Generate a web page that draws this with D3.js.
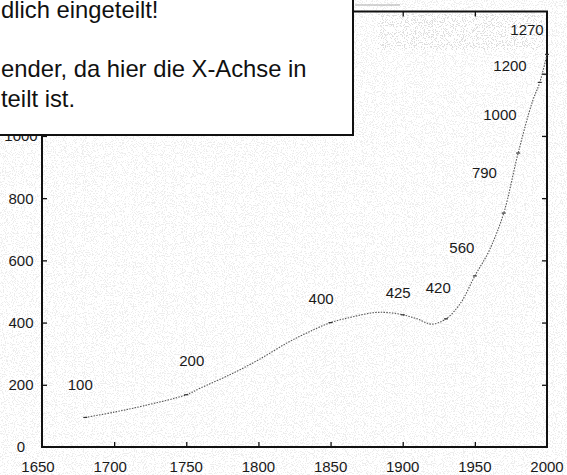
<!DOCTYPE html>
<html>
<head>
<meta charset="utf-8">
<script src="https://cdn.jsdelivr.net/npm/d3@7"></script>
<style>
  body { margin: 0; background: #fff; }
  svg { display: block; font-family: "Liberation Sans", Arial, sans-serif; }
</style>
</head>
<body>
<div class="chart"></div>
<script>
// traced curve (year, value)
const years  = [1680, 1700, 1720, 1750, 1760, 1780, 1800, 1820, 1835, 1850, 1865, 1880, 1890, 1900, 1910, 1920, 1930, 1940, 1950, 1960, 1970, 1980, 1990, 1995, 2000];
const values = [  95,  112,  132,  168,  190,  232,  280,  335,  370,  400,  418,  432,  432,  425,  412,  395,  412,  462,  550,  632,  752,  945, 1112, 1172, 1262];

// annotated points
const labelYears  = [1680, 1750, 1850, 1900, 1930, 1950, 1970, 1980, 1995, 2000];
const labelValues = [ 100,  200,  400,  425,  420,  560,  790, 1000, 1200, 1270];

const xTicks = [1650, 1700, 1750, 1800, 1850, 1900, 1950, 2000];
const yTicks = [0, 200, 400, 600, 800, 1000, 1200, 1400];
const yLabels = [0, 200, 400, 600, 800, 1000];   // 1200 sits under the note box

const noteLines = ["dlich eingeteilt!", "", "ender, da hier die X-Achse in", "teilt ist."];

const width = 567, height = 475;
const plotL = 42, plotR = 547, plotT = 11.5, plotB = 447;

const svg = d3.select(".chart").append("svg")
  .attr("width", width)
  .attr("height", height);

// scanned paper speckle
const defs = svg.append("defs");
const f = defs.append("filter").attr("id", "grain")
  .attr("x", 0).attr("y", 0).attr("width", 1).attr("height", 1);
f.append("feTurbulence")
  .attr("type", "fractalNoise")
  .attr("baseFrequency", 0.9)
  .attr("numOctaves", 2)
  .attr("seed", 3)
  .attr("result", "noise");
f.append("feColorMatrix")
  .attr("in", "noise")
  .attr("type", "matrix")
  .attr("values", "0 0 0 0 0.5  0 0 0 0 0.5  0 0 0 0 0.5  0 0 0 -20 8.8");

svg.append("rect")
  .attr("width", width).attr("height", height)
  .attr("fill", "#fff");
svg.append("rect")
  .attr("width", width).attr("height", height)
  .attr("filter", "url(#grain)")
  .attr("opacity", 0.25);
// darker patch of the scan near the top right
svg.append("rect")
  .attr("x", 378).attr("y", 14).attr("width", 165).attr("height", 36)
  .attr("filter", "url(#grain)")
  .attr("opacity", 0.3);

const x = d3.scaleLinear().domain([1650, 2000]).range([plotL, plotR]);
const y = d3.scaleLinear().domain([0, 1400]).range([plotB, plotT]);

// frame with inward ticks on all sides
const frame = svg.append("g");
frame.append("g")
  .attr("transform", `translate(0,${plotB})`)
  .call(d3.axisTop(x).tickValues(xTicks.slice(1, -1)).tickSize(5).tickFormat(""));
frame.append("g")
  .attr("transform", `translate(0,${plotT})`)
  .call(d3.axisBottom(x).tickValues(xTicks.slice(1, -1)).tickSize(5).tickFormat(""));
frame.append("g")
  .attr("transform", `translate(${plotL},0)`)
  .call(d3.axisRight(y).tickValues(yTicks.slice(1, -1)).tickSize(5).tickFormat(""));
frame.append("g")
  .attr("transform", `translate(${plotR},0)`)
  .call(d3.axisLeft(y).tickValues(yTicks.slice(1, -1)).tickSize(5).tickFormat(""));
frame.selectAll(".domain").remove();
frame.selectAll(".tick line").attr("stroke", "#111").attr("stroke-width", 1.3);

frame.append("rect")
  .attr("x", plotL).attr("y", plotT)
  .attr("width", plotR - plotL).attr("height", plotB - plotT)
  .attr("fill", "none")
  .attr("stroke", "#111")
  .attr("stroke-width", 2);

// tick labels
svg.append("g").selectAll("text")
  .data(xTicks)
  .join("text")
  .attr("x", d => x(d) - (d < 1710 ? 4 : 0))
  .attr("y", 472)
  .attr("text-anchor", "middle")
  .attr("font-size", 15)
  .attr("fill", "#1a1a1a")
  .text(d => d);

svg.append("g").selectAll("text")
  .data(yLabels)
  .join("text")
  .attr("x", 21)
  .attr("y", d => y(d))
  .attr("dy", "0.36em")
  .attr("text-anchor", "middle")
  .attr("font-size", 15)
  .attr("fill", "#1a1a1a")
  .text(d => d);

// the curve
const pts = years.map((yr, i) => [yr, values[i]]);
const line = d3.line()
  .x(d => x(d[0]))
  .y(d => y(d[1]))
  .curve(d3.curveCatmullRom.alpha(0.5));

svg.append("path")
  .datum(pts)
  .attr("d", line)
  .attr("fill", "none")
  .attr("stroke", "#555")
  .attr("stroke-width", 1.1)
  .attr("stroke-dasharray", "1.5,1.3");

// little marks where the labelled points sit
svg.append("g").selectAll("line")
  .data(pts.filter(d => labelYears.includes(d[0])))
  .join("line")
  .attr("x1", d => x(d[0]) - 2).attr("x2", d => x(d[0]) + 2)
  .attr("y1", d => y(d[1])).attr("y2", d => y(d[1]))
  .attr("stroke", "#333")
  .attr("stroke-width", 1.2);

// value labels, offset up-left of their point
const labelOffset = [[-5, -26], [5.5, -19], [-9.5, -18.7], [-4.5, -17], [-7.7, -23.5],
                     [-13, -20], [-19.3, -23.6], [-18.2, -16.3], [-29.8, -3.2], [-20, -17.4]];
svg.append("g").selectAll("text")
  .data(labelYears.map((yr, i) => ({ yr, v: labelValues[i], off: labelOffset[i] })))
  .join("text")
  .attr("x", d => x(d.yr) + d.off[0])
  .attr("y", d => y(d.v) + d.off[1])
  .attr("text-anchor", "middle")
  .attr("font-size", 15)
  .attr("fill", "#1a1a1a")
  .text(d => d.v);

// stray scan line above the frame
svg.append("line")
  .attr("x1", 355).attr("x2", 400)
  .attr("y1", 5).attr("y2", 5)
  .attr("stroke", "#aaa")
  .attr("stroke-width", 1);

// callout box laid over the top-left corner
const note = svg.append("g");
note.append("rect")
  .attr("x", -10).attr("y", -10)
  .attr("width", 363).attr("height", 145)
  .attr("fill", "#fff")
  .attr("stroke", "#111")
  .attr("stroke-width", 2);
note.selectAll("text")
  .data(noteLines)
  .join("text")
  .attr("x", 1)
  .attr("y", (d, i) => [18, 48, 77, 107][i])
  .attr("font-size", 23.8)
  .attr("fill", "#111")
  .text(d => d);
</script>
</body>
</html>
